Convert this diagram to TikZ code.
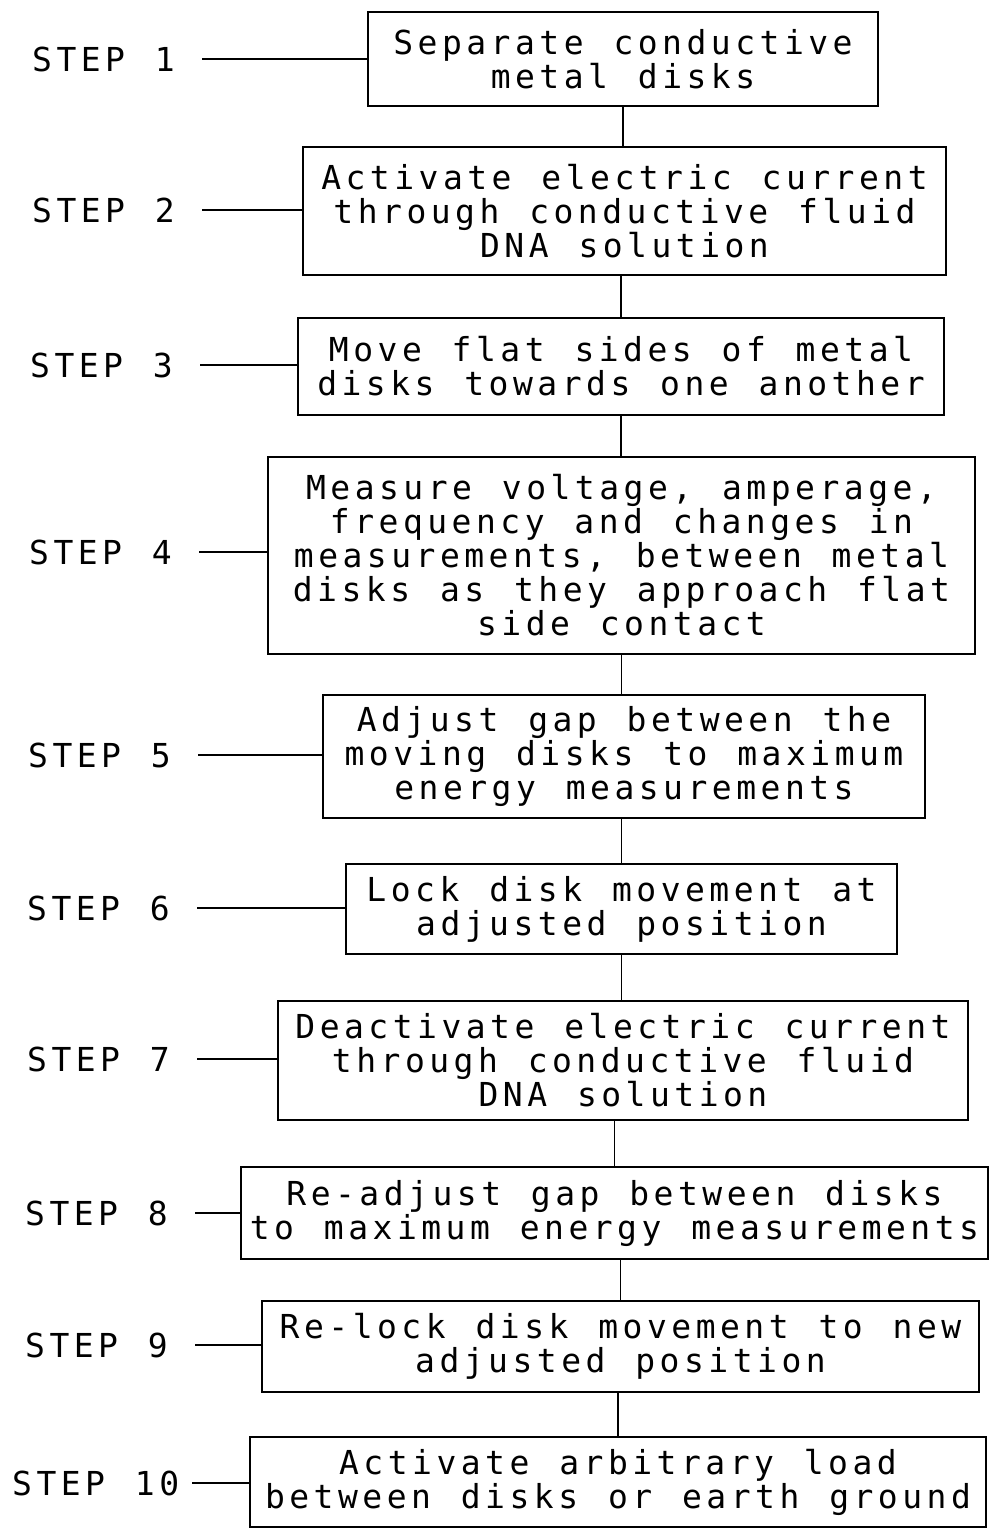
\documentclass[tikz,border=0pt]{standalone}
\usepackage{fontspec}
\newfontfamily\plotfont{DejaVu Sans Mono}[LetterSpace=13.6, WordSpace=1.226]
\tikzset{
  stepbox/.style={draw, line width=1.3pt, align=center, inner sep=0pt,
    font=\plotfont\fontsize{33}{34}\selectfont},
  steplabel/.style={anchor=west, inner sep=0pt,
    font=\plotfont\fontsize{33}{34}\selectfont},
  link/.style={line width=1.3pt, shorten <=27pt},
}
\begin{document}
\begin{tikzpicture}[x=1pt,y=-1pt]
\useasboundingbox (0,0) rectangle (994,1530);
% flow boxes
\node[stepbox, minimum width=510, minimum height=94] (b1) at (623,59) {Separate conductive\\metal disks};
\node[stepbox, minimum width=643, minimum height=128] (b2) at (624.5,211) {Activate electric current\\through conductive fluid\\DNA solution};
\node[stepbox, minimum width=646, minimum height=97] (b3) at (621,366.5) {Move flat sides of metal\\disks towards one another};
\node[stepbox, minimum width=707, minimum height=197] (b4) at (621.5,555.5) {Measure voltage, amperage,\\frequency and changes in\\measurements, between metal\\disks as they approach flat\\side contact};
\node[stepbox, minimum width=602, minimum height=123] (b5) at (624,756.5) {Adjust gap between the\\moving disks to maximum\\energy measurements};
\node[stepbox, minimum width=551, minimum height=90] (b6) at (621.5,909) {Lock disk movement at\\adjusted position};
\node[stepbox, minimum width=690, minimum height=119] (b7) at (623,1060.5) {Deactivate electric current\\through conductive fluid\\DNA solution};
\node[stepbox, minimum width=747, minimum height=92] (b8) at (614.5,1213) {Re-adjust gap between disks\\to maximum energy measurements};
\node[stepbox, minimum width=717, minimum height=91] (b9) at (620.5,1346.5) {Re-lock disk movement to new\\adjusted position};
\node[stepbox, minimum width=736, minimum height=90] (b10) at (618,1482) {Activate arbitrary load\\between disks or earth ground};
% step labels
\node[steplabel] (l1) at (32,59) {STEP 1};
\node[steplabel] (l2) at (32,210) {STEP 2};
\node[steplabel] (l3) at (30,365) {STEP 3};
\node[steplabel] (l4) at (29,552) {STEP 4};
\node[steplabel] (l5) at (28,755) {STEP 5};
\node[steplabel] (l6) at (27,908) {STEP 6};
\node[steplabel] (l7) at (27,1059) {STEP 7};
\node[steplabel] (l8) at (25,1213) {STEP 8};
\node[steplabel] (l9) at (25,1345) {STEP 9};
\node[steplabel] (l10) at (12,1483) {STEP 10};
% label lines
\draw[link] (l1.east) -- (l1.east -| b1.west);
\draw[link] (l2.east) -- (l2.east -| b2.west);
\draw[link] (l3.east) -- (l3.east -| b3.west);
\draw[link] (l4.east) -- (l4.east -| b4.west);
\draw[link] (l5.east) -- (l5.east -| b5.west);
\draw[link] (l6.east) -- (l6.east -| b6.west);
\draw[link] (l7.east) -- (l7.east -| b7.west);
\draw[link] (l8.east) -- (l8.east -| b8.west);
\draw[link] (l9.east) -- (l9.east -| b9.west);
\draw[link, shorten <=13pt] (l10.east) -- (l10.east -| b10.west);
% vertical links
\draw[line width=1.3pt] (b1.south) -- (b1.south |- b2.north);
\draw[line width=1.3pt] (b2.south -| b3.north) -- (b3.north);
\draw[line width=1.3pt] (b3.south) -- (b3.south |- b4.north);
\draw[line width=1.3pt] (b4.south) -- (b4.south |- b5.north);
\draw[line width=1.3pt] (b5.south -| b6.north) -- (b6.north);
\draw[line width=1.3pt] (b6.south) -- (b6.south |- b7.north);
\draw[line width=1.3pt] (b7.south -| b8.north) -- (b8.north);
\draw[line width=1.3pt] (b8.south -| b9.north) -- (b9.north);
\draw[line width=1.3pt] (b9.south -| b10.north) -- (b10.north);
\end{tikzpicture}
\end{document}
